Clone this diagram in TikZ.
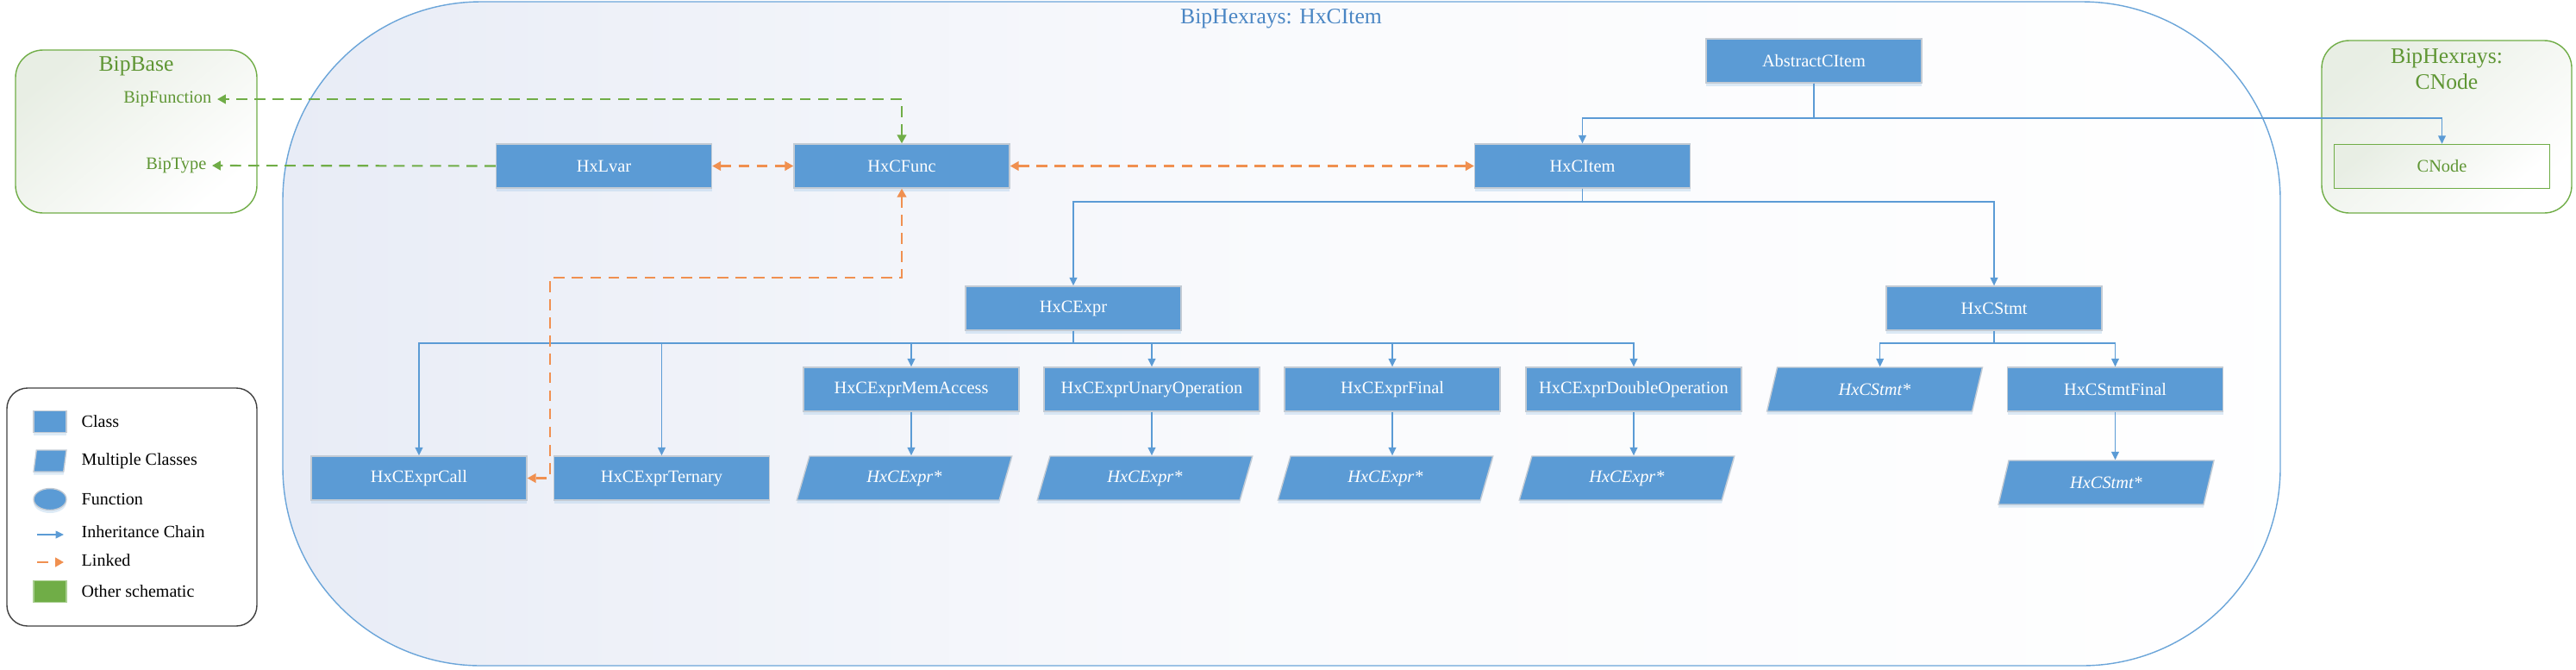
\documentclass[tikz,border=0pt]{standalone}
\usepackage{fontspec}
\setmainfont{Liberation Serif}
\usepackage{tikz}
\usetikzlibrary{positioning,calc,arrows.meta,shapes.geometric,shadows}
\definecolor{hxblue}{HTML}{5B9BD5}
\definecolor{hxedge}{HTML}{C3CBD4}
\definecolor{hxtitle}{HTML}{4A86C4}
\definecolor{hxgreen}{HTML}{70AD47}
\definecolor{hxgtext}{HTML}{5F9634}
\definecolor{hxorange}{HTML}{ED7D31}
\definecolor{hxpale}{HTML}{E8ECF6}
\definecolor{hxgpale}{HTML}{E8EEE4}

\begin{document}
\begin{tikzpicture}[
  nodefont/.style={font=\fontsize{5.8}{7}\selectfont},
  titlefont/.style={font=\fontsize{7.3}{8.6}\selectfont},
  classbox/.style={rectangle, nodefont, fill=hxblue, draw=hxedge, line width=0.4pt, text=white,
    minimum width=2.5cm, minimum height=0.51cm, inner sep=0pt,
    drop shadow={shadow xshift=0pt, shadow yshift=-0.035cm, fill=hxblue!45, opacity=0.45}},
  multibox/.style={classbox, trapezium, trapezium left angle=72, trapezium right angle=108,
    trapezium stretches=true, font=\fontsize{5.8}{7}\selectfont\itshape},
  groupbox/.style={draw=hxblue!90, line width=0.4pt, left color=hxpale, right color=white!98!hxpale,
    middle color=white!75!hxpale, rounded corners=2.3cm},
  othergroup/.style={draw=hxgreen, line width=0.4pt, top color=hxgpale, bottom color=white,
    shading angle=40, rounded corners=0.32cm},
  otherbox/.style={rectangle, nodefont, draw=hxgreen, line width=0.4pt, top color=hxgpale, bottom color=white,
    shading angle=40, text=hxgtext, minimum width=2.5cm, minimum height=0.51cm, inner sep=0pt},
  biplabel/.style={nodefont, text=hxgtext, inner sep=0.06cm, anchor=east},
  inherit/.style={draw=hxblue, line width=0.45pt, -{Triangle[length=2.7pt,width=2.5pt]}},
  linked/.style={draw=hxorange!85, line width=0.6pt, dash pattern=on 3.6pt off 2.4pt,
    -{Triangle[length=2.8pt,width=3pt]}},
  linkedboth/.style={linked, {Triangle[length=2.8pt,width=3pt]}-{Triangle[length=2.8pt,width=3pt]}},
  othlink/.style={draw=hxgreen, line width=0.6pt, dash pattern=on 3.6pt off 2.4pt,
    -{Triangle[length=2.8pt,width=3pt]}},
  legendtext/.style={nodefont, font=\fontsize{5.7}{7}\selectfont, anchor=west, inner sep=0pt},
]
\useasboundingbox (0,0) rectangle (29.88,-7.76);

% groups (background)
\node[groupbox, minimum width=23.17cm, minimum height=7.70cm] (hxgroup) at (14.865,-3.87) {};
\node[titlefont, text=hxtitle] (hxgrouptitle) at (14.86,-0.22) {BipHexrays: HxCItem};
\node[othergroup, minimum width=2.80cm, minimum height=1.89cm] (bipbase) at (1.58,-1.525) {};
\node[titlefont, text=hxgtext] (bipbasetitle) at (1.58,-0.77) {BipBase};
\node[othergroup, minimum width=2.90cm, minimum height=2.00cm] (cnodegroup) at (28.38,-1.47) {};
\node[titlefont, text=hxgtext, align=center] (cnodetitle) at (28.38,-0.80) {BipHexrays:\\CNode};

% BipBase entries
\node[biplabel] (bipfunc) at (2.52,-1.15) {BipFunction};
\node[biplabel] (biptype) at (2.46,-1.92) {BipType};

% classes
\node[classbox] (absitem) at (21.04,-0.705) {AbstractCItem};
\node[classbox] (hxcitem) at (18.355,-1.925) {HxCItem};
\node[otherbox] (cnode) at (28.325,-1.93) {CNode};
\node[classbox] (hxlvar) at (7.005,-1.925) {HxLvar};
\node[classbox] (hxcfunc) at (10.46,-1.925) {HxCFunc};
\node[classbox] (hxcexpr) at (12.45,-3.575) {HxCExpr};
\node[classbox] (hxcstmt) at (23.13,-3.575) {HxCStmt};

\node[classbox] (exprcall) at (4.86,-5.545) {HxCExprCall};
\node[classbox] (exprternary) at (7.675,-5.545) {HxCExprTernary};
\node[classbox] (memaccess) at (10.57,-4.515) {HxCExprMemAccess};
\node[classbox] (unaryop) at (13.36,-4.515) {HxCExprUnaryOperation};
\node[classbox] (exprfinal) at (16.15,-4.515) {HxCExprFinal};
\node[classbox] (doubleop) at (18.95,-4.515) {HxCExprDoubleOperation};
\node[multibox] (stmtstar) at (21.745,-4.515) {HxCStmt*};
\node[classbox] (stmtfinal) at (24.535,-4.515) {HxCStmtFinal};

\node[multibox] (memstar) at (10.49,-5.545) {HxCExpr*};
\node[multibox] (unarystar) at (13.28,-5.545) {HxCExpr*};
\node[multibox] (finalstar) at (16.07,-5.545) {HxCExpr*};
\node[multibox] (doublestar) at (18.87,-5.545) {HxCExpr*};
\node[multibox] (stmtfinalstar) at (24.43,-5.595) {HxCStmt*};

% inheritance chain
\draw[inherit] (absitem.south) -- ++(0,-0.40) -| (hxcitem.north);
\draw[inherit] (absitem.south) -- ++(0,-0.40) -| (cnode.north);
\draw[inherit] (hxcitem.south) -- ++(0,-0.15) -| (hxcexpr.north);
\draw[inherit] (hxcitem.south) -- ++(0,-0.15) -| (hxcstmt.north);
\foreach \kid in {exprcall,exprternary,memaccess,unaryop,exprfinal,doubleop}
  \draw[inherit] (hxcexpr.south) -- ++(0,-0.14) -| (\kid.north);
\draw[inherit] (hxcstmt.south) -- ++(0,-0.14) -| (stmtstar.top side);
\draw[inherit] (hxcstmt.south) -- ++(0,-0.14) -| (stmtfinal.north);
\foreach \parent/\kid in {memaccess/memstar,unaryop/unarystar,exprfinal/finalstar,doubleop/doublestar,stmtfinal/stmtfinalstar}
  \draw[inherit] (\parent.south) -- (\parent.south |- \kid.top side);

% linked
\draw[linkedboth] (hxlvar.east) -- (hxcfunc.west);
\draw[linkedboth] (hxcfunc.east) -- (hxcitem.west);
\coordinate (callbend) at (6.38,-3.22);
\draw[linkedboth] (hxcfunc.south) |- (callbend) |- (exprcall.east);

% other schematic links
\draw[othlink, {Triangle[length=2.8pt,width=3pt]}-{Triangle[length=2.8pt,width=3pt]}] (hxcfunc.north) |- (bipfunc.east);
\draw[othlink] (hxlvar.west) -- (biptype.east);

% Legend
\node[draw=black!75, line width=0.4pt, rounded corners=0.24cm, minimum width=2.90cm, minimum height=2.76cm] (legend) at (1.53,-5.88) {};
\node[classbox, minimum width=0.38cm, minimum height=0.25cm] (lgclass) at (0.58,-4.89) {};
\node[legendtext] (lgclasstext) at (0.94,-4.89) {Class};
\node[classbox, trapezium, trapezium left angle=84, trapezium right angle=96, trapezium stretches=true,
  inner sep=1pt, minimum width=0.38cm, minimum height=0.25cm] (lgmulti) at (0.58,-5.345) {};
\node[legendtext] (lgmultitext) at (0.94,-5.345) {Multiple Classes};
\node[classbox, ellipse, inner sep=1pt, minimum width=0.38cm, minimum height=0.25cm] (lgfunc) at (0.58,-5.79) {};
\node[legendtext] (lgfunctext) at (0.94,-5.79) {Function};
\coordinate (lginhA) at (0.43,-6.20);
\coordinate (lginhB) at (0.74,-6.20);
\draw[inherit] (lginhA) -- (lginhB);
\node[legendtext] (lginhtext) at (0.94,-6.17) {Inheritance Chain};
\coordinate (lglinkA) at (0.43,-6.52);
\coordinate (lglinkB) at (0.74,-6.52);
\draw[linked] (lglinkA) -- (lglinkB);
\node[legendtext] (lglinktext) at (0.94,-6.50) {Linked};
\node[rectangle, fill=hxgreen, draw=hxgreen!60, line width=0.4pt, minimum width=0.38cm, minimum height=0.25cm,
  inner sep=0pt] (lgother) at (0.58,-6.86) {};
\node[legendtext] (lgothertext) at (0.94,-6.86) {Other schematic};
\end{tikzpicture}
\end{document}
